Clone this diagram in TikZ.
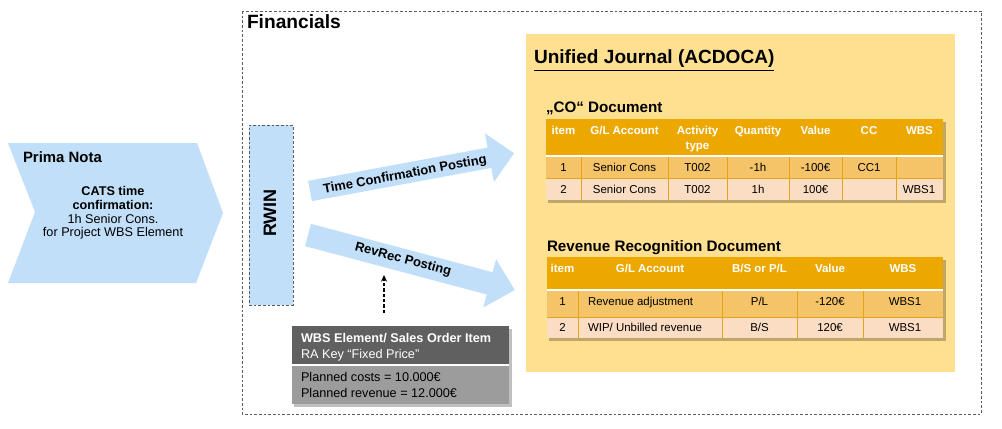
\documentclass[tikz,border=0pt]{standalone}
\usepackage{fontspec}
\setmainfont{Liberation Sans}
\usetikzlibrary{arrows.meta,calc}
\definecolor{lblue}{RGB}{193,223,248}
\definecolor{ybox}{RGB}{255,224,145}
\definecolor{gold}{RGB}{237,168,0}
\definecolor{rowa}{RGB}{245,196,105}
\definecolor{rowb}{RGB}{250,221,194}
\definecolor{gridc}{RGB}{228,165,20}
\definecolor{wdark}{RGB}{96,96,96}
\definecolor{wlight}{RGB}{156,156,156}
\definecolor{dashc}{RGB}{90,90,90}
\newcommand{\fsz}[2]{\fontsize{#1}{#2}\selectfont}
\begin{document}
\begin{tikzpicture}[x=0.75pt,y=-0.75pt,
  every node/.style={inner sep=0pt, outer sep=0pt},
  hdr/.style={anchor=base, font=\fsz{8.6pt}{11pt}\bfseries, text=white, align=center},
  cell/.style={anchor=base, font=\fsz{8.6pt}{11pt}},
  title/.style={anchor=base west, font=\fsz{11.4pt}{13pt}\bfseries},
  dashbox/.style={draw=dashc, line width=0.6pt, dash pattern=on 2pt off 1.5pt},
  fatlabel/.style={font=\fsz{9.75pt}{12pt}\bfseries},
  shadowc/.style={fill=black, opacity=0.25}]
\useasboundingbox (0,0) rectangle (1002,428);
\fill[white] (0,0) rectangle (1002,428);

% Prima Nota chevron
\fill[lblue] (8,143) -- (197,143) -- (223,213) -- (196,283) -- (8,283) -- (35,212) -- cycle;
\node[anchor=base west, font=\fsz{11.2pt}{13pt}\bfseries] (pn) at (23,162) {Prima Nota};
\node[align=center, font=\fsz{9.5pt}{10.2pt}] (cats) at (113,213)
  {\textbf{CATS time}\\\textbf{confirmation:}\\1h Senior Cons.\\for Project WBS Element};

% Financials frame
\draw[dashbox] (242,11) rectangle (981,414);
\node[anchor=base west, font=\fsz{14.4pt}{17pt}\bfseries] (fin) at (247,29) {Financials};

% RWIN
\node[dashbox, fill=lblue, minimum width=33pt, minimum height=135pt] (rwin) at (271,215) {};
\node[rotate=90, font=\fsz{13.5pt}{16pt}\bfseries] (rwintext) at (270,213) {RWIN};

% fat arrows
\begin{scope}[shift={(310,191)}, rotate=10.5]
\fill[lblue] (0,-10.3) -- (182.5,-10.3) -- (182.5,-24.8) -- (207.5,0) -- (182.5,24.8) -- (182.5,10.3) -- (0,10.3) -- cycle;
\end{scope}
\node[fatlabel, rotate=10.5] (tcp) at (405,175) {Time Confirmation Posting};
\begin{scope}[shift={(308,235)}, rotate=-14.9]
\fill[lblue] (0,-11.5) -- (188,-11.5) -- (188,-25) -- (214,0) -- (188,25) -- (188,11.5) -- (0,11.5) -- cycle;
\end{scope}
\node[fatlabel, rotate=-14.9] (rrp) at (403,260) {RevRec Posting};

% Unified journal
\fill[ybox] (526,34) rectangle (955,372);
\node[anchor=base west, font=\fsz{14.3pt}{17pt}\bfseries] (uj) at (534,64) {\underline{Unified Journal (ACDOCA)}};

% CO document
\node[title] (cot) at (546,113) {„CO“ Document};
\fill[shadowc] (548,122) rectangle (945.5,202.5);
\fill[gold] (546,119) rectangle (943,156);
\fill[rowa] (546,156) rectangle (943,178);
\fill[rowb] (546,178) rectangle (943,200);
\draw[gridc, line width=0.5pt] (546,178) -- (943,178);
\foreach \x in {581,668,727,789,842,896} \draw[gridc, line width=0.6pt] (\x,156) -- (\x,200);
\draw[white, line width=1.5pt] (546,156) -- (943,156);
\node[hdr] (coh1) at (563.5,134) {item};
\node[hdr] (coh2) at (624.5,134) {G/L Account};
\node[hdr] (coh3) at (697.5,149) {Activity\\type};
\node[hdr] (coh4) at (758,134) {Quantity};
\node[hdr] (coh5) at (815.5,134) {Value};
\node[hdr] (coh6) at (869,134) {CC};
\node[hdr] (coh7) at (919.5,134) {WBS};
\node[cell] (coa1) at (563.5,171) {1};
\node[cell] (coa2) at (624.5,171) {Senior Cons};
\node[cell] (coa3) at (697.5,171) {T002};
\node[cell] (coa4) at (758,171) {-1h};
\node[cell] (coa5) at (815.5,171) {-100€};
\node[cell] (coa6) at (869,171) {CC1};
\node[cell] (cob1) at (563.5,193) {2};
\node[cell] (cob2) at (624.5,193) {Senior Cons};
\node[cell] (cob3) at (697.5,193) {T002};
\node[cell] (cob4) at (758,193) {1h};
\node[cell] (cob5) at (815.5,193) {100€};
\node[cell] (cob7) at (919,193) {WBS1};

% Revenue recognition document
\node[title] (rrt) at (547,251) {Revenue Recognition Document};
\fill[shadowc] (549,260) rectangle (945.5,340.5);
\fill[gold] (547,257) rectangle (943,290);
\fill[rowa] (547,290) rectangle (943,317);
\fill[rowb] (547,317) rectangle (943,338);
\draw[gridc, line width=0.5pt] (547,317) -- (943,317);
\foreach \x in {578,722,797,863} \draw[gridc, line width=0.6pt] (\x,290) -- (\x,338);
\draw[white, line width=1.5pt] (547,290) -- (943,290);
\node[hdr] (rrh1) at (562.5,272) {item};
\node[hdr] (rrh2) at (650,272) {G/L Account};
\node[hdr] (rrh3) at (759.5,272) {B/S or P/L};
\node[hdr] (rrh4) at (830,272) {Value};
\node[hdr] (rrh5) at (903,272) {WBS};
\node[cell] (rra1) at (562.5,305) {1};
\node[cell, anchor=base west] (rra2) at (588,305) {Revenue adjustment};
\node[cell] (rra3) at (759.5,305) {P/L};
\node[cell] (rra4) at (830,305) {-120€};
\node[cell] (rra5) at (905,305) {WBS1};
\node[cell] (rrb1) at (562.5,331) {2};
\node[cell, anchor=base west] (rrb2) at (588,331) {WIP/ Unbilled revenue};
\node[cell] (rrb3) at (759.5,331) {B/S};
\node[cell] (rrb4) at (830,331) {120€};
\node[cell] (rrb5) at (905,331) {WBS1};

% WBS element box
\fill[shadowc] (294,329) rectangle (511.5,406.5);
\node[fill=wlight, minimum width=162.75pt, minimum height=58.5pt, anchor=north west] (wbs) at (292,326) {};
\fill[wdark] (292,326) rectangle (509,365);
\draw[white, line width=1.2pt] (292,365) -- (509,365);
\node[anchor=west, align=left, text=white, font=\fsz{9.5pt}{12pt}] (wbsh) at (301,347)
  {\textbf{WBS Element/ Sales Order Item}\\RA Key “Fixed Price”};
\node[anchor=west, align=left, font=\fsz{9.5pt}{12pt}] (wbsp) at (301,385)
  {Planned costs = 10.000€\\Planned revenue = 12.000€};

% dashed arrow
\coordinate (rrtip) at (384,275);
\draw[line width=0.8pt, dash pattern=on 2.5pt off 1.5pt, -{Stealth[length=5pt,width=4.5pt]}]
  ($(wbs.north -| rrtip)+(0,-13)$) -- (rrtip);
\end{tikzpicture}
\end{document}
